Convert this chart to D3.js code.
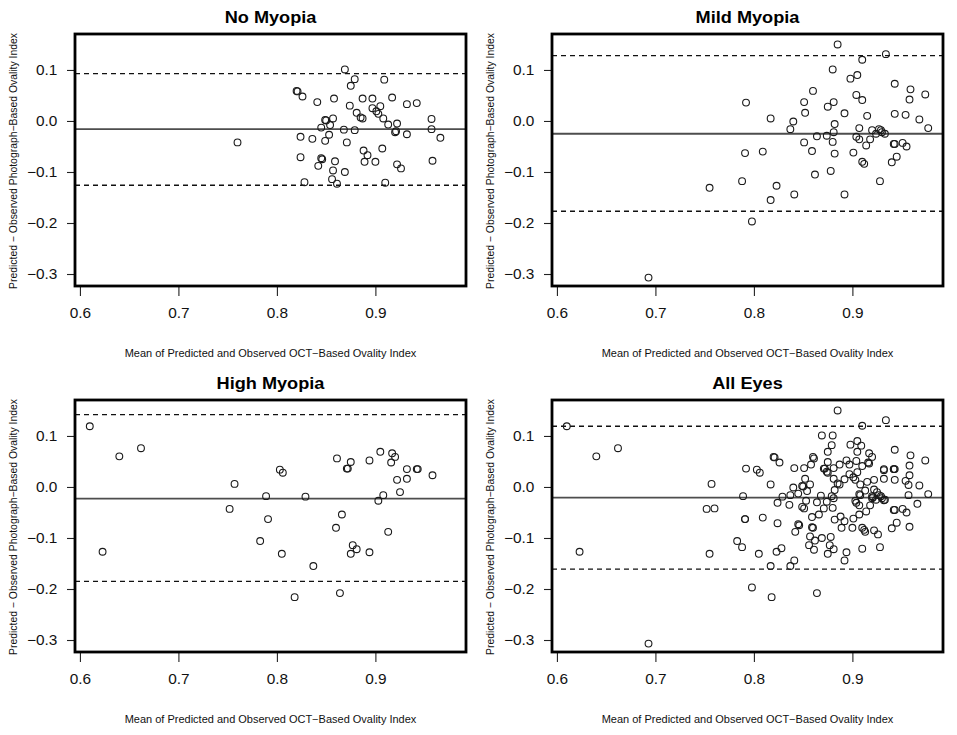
<html>
<head>
<meta charset="utf-8">
<script src='https://d3js.org/d3.v7.min.js' charset="utf-8"></script>
<style>
 body {margin:0; background:#fff;}
 text {font-family: "Liberation Sans", Arial, sans-serif;}
 circle {fill:none; stroke:#1a1a1a; stroke-width:1.1;}
</style>
</head>
<body>
<svg width=957 height=735></svg>
<script>

// points: [mean of predicted and observed, predicted - observed]
var noMyopia = [[0.760,-0.042],[0.820,0.059],[0.821,0.058],[0.826,0.048],[0.841,0.037],[0.858,0.044],[0.869,0.101],[0.879,0.082],[0.875,0.069],[0.874,0.030],[0.887,0.044],[0.897,0.044],[0.909,0.081],[0.917,0.046],[0.932,0.033],[0.942,0.035],[0.881,0.016],[0.885,0.007],[0.887,0.005],[0.897,0.025],[0.901,0.019],[0.903,0.014],[0.905,0.029],[0.908,0.005],[0.913,-0.007],[0.922,-0.005],[0.920,-0.022],[0.921,-0.020],[0.932,-0.026],[0.957,0.004],[0.957,-0.016],[0.966,-0.033],[0.958,-0.078],[0.849,0.002],[0.850,0.001],[0.857,0.005],[0.854,-0.008],[0.845,-0.013],[0.853,-0.027],[0.849,-0.039],[0.836,-0.035],[0.824,-0.031],[0.824,-0.071],[0.845,-0.073],[0.846,-0.075],[0.842,-0.088],[0.859,-0.079],[0.857,-0.097],[0.856,-0.114],[0.861,-0.123],[0.828,-0.120],[0.868,-0.017],[0.879,-0.018],[0.871,-0.042],[0.869,-0.100],[0.888,-0.058],[0.892,-0.067],[0.889,-0.080],[0.900,-0.080],[0.907,-0.054],[0.910,-0.121],[0.922,-0.085],[0.926,-0.093]];

var mildMyopia = [[0.693,-0.307],[0.755,-0.131],[0.792,0.036],[0.791,-0.063],[0.788,-0.118],[0.798,-0.197],[0.809,-0.060],[0.817,0.005],[0.817,-0.155],[0.823,-0.127],[0.837,-0.016],[0.840,-0.001],[0.841,-0.144],[0.851,0.037],[0.852,0.016],[0.851,-0.042],[0.860,0.059],[0.859,-0.059],[0.862,-0.105],[0.864,-0.030],[0.874,-0.029],[0.875,0.028],[0.881,0.037],[0.880,0.101],[0.885,0.150],[0.882,-0.006],[0.881,-0.022],[0.880,-0.041],[0.882,-0.064],[0.878,-0.098],[0.892,0.015],[0.892,-0.144],[0.898,0.083],[0.905,0.090],[0.910,0.120],[0.904,0.051],[0.910,0.041],[0.915,0.010],[0.907,-0.014],[0.904,-0.031],[0.907,-0.036],[0.901,-0.062],[0.914,-0.048],[0.910,-0.080],[0.912,-0.084],[0.918,-0.036],[0.920,-0.018],[0.924,-0.025],[0.927,-0.016],[0.929,-0.018],[0.930,-0.022],[0.933,-0.025],[0.934,0.131],[0.928,-0.118],[0.943,0.073],[0.943,0.014],[0.942,-0.045],[0.943,-0.045],[0.945,-0.070],[0.940,-0.081],[0.959,0.062],[0.958,0.042],[0.954,0.012],[0.951,-0.043],[0.955,-0.050],[0.968,0.003],[0.974,0.052],[0.977,-0.014]];

var highMyopia = [[0.610,0.119],[0.640,0.060],[0.662,0.076],[0.623,-0.127],[0.757,0.006],[0.752,-0.043],[0.789,-0.018],[0.791,-0.063],[0.783,-0.106],[0.803,0.034],[0.806,0.028],[0.805,-0.131],[0.829,-0.019],[0.837,-0.155],[0.818,-0.216],[0.861,0.056],[0.875,0.049],[0.871,0.036],[0.872,0.036],[0.866,-0.054],[0.860,-0.080],[0.877,-0.114],[0.881,-0.122],[0.875,-0.131],[0.864,-0.208],[0.894,0.052],[0.894,-0.128],[0.905,0.069],[0.903,-0.027],[0.908,-0.016],[0.913,-0.088],[0.917,0.066],[0.920,0.059],[0.916,0.048],[0.922,0.014],[0.925,-0.010],[0.932,0.035],[0.932,0.016],[0.942,0.035],[0.943,0.035],[0.958,0.023]];

var allEyes = noMyopia.concat(mildMyopia, highMyopia);

var titles = ["No Myopia", "Mild Myopia", "High Myopia", "All Eyes"];
var groups = [noMyopia, mildMyopia, highMyopia, allEyes];
// bias line and limits of agreement
var meanDiff = [-0.016, -0.025, -0.023, -0.021];
var upperLoA = [0.093, 0.128, 0.142, 0.119];
var lowerLoA = [-0.126, -0.177, -0.185, -0.161];

var xTicks = [0.6, 0.7, 0.8, 0.9];
var yTicks = [0.1, 0.0, -0.1, -0.2, -0.3];

var xLabel = "Mean of Predicted and Observed OCT\u2212Based Ovality Index";
var yLabel = "Predicted \u2212 Observed Photograph\u2212Based Ovality Index";

var w = 391, h = 252, sx = 1.1;
var fmt = d3.format(".1f");

var svg = d3.select("svg");

groups.forEach(function (pts, i) {
  var left = 75 + (i % 2) * 477,
      top = 34 + Math.floor(i / 2) * 366;

  var x = d3.scaleLinear().domain([0.595, 0.992]).range([0, w]);
  var y = d3.scaleLinear().domain([-0.3235, 0.1705]).range([h, 0]);

  var g = svg.append("g").attr("transform", "translate(" + left + "," + top + ")");

  // axes
  var gx = g.append("g")
    .attr("transform", "translate(0," + h + ")")
    .call(d3.axisBottom(x).tickValues(xTicks).tickFormat(fmt).tickSize(10).tickPadding(12));
  var gy = g.append("g")
    .call(d3.axisLeft(y).tickValues(yTicks).tickFormat(fmt).tickSize(8).tickPadding(8));
  [gx, gy].forEach(function (a) {
    a.select(".domain").remove();
    a.selectAll("line").attr("stroke", "#222").attr("stroke-width", 1.1);
    a.selectAll("text")
      .attr("font-family", "Liberation Sans, Arial, sans-serif")
      .attr("font-size", 14).attr("fill", "#111")
      .attr("transform", "scale(" + sx + ",1)");
  });

  // mean and limits lines
  g.append("line")
    .attr("x1", 0).attr("x2", w)
    .attr("y1", y(meanDiff[i])).attr("y2", y(meanDiff[i]))
    .attr("stroke", "#4d4d4d").attr("stroke-width", 1.8);
  [upperLoA[i], lowerLoA[i]].forEach(function (v) {
    g.append("line")
      .attr("x1", 0).attr("x2", w)
      .attr("y1", y(v)).attr("y2", y(v))
      .attr("stroke", "#111").attr("stroke-width", 1.3)
      .attr("stroke-dasharray", "5,4");
  });

  g.selectAll("circle")
    .data(pts)
    .enter()
    .append("circle")
    .attr("cx", function (d) { return x(d[0]); })
    .attr("cy", function (d) { return y(d[1]); })
    .attr("r", 3.4);

  // frame
  g.append("rect")
    .attr("width", w).attr("height", h)
    .attr("fill", "none").attr("stroke", "#000").attr("stroke-width", 2.8);

  g.append("text")
    .attr("transform", "translate(" + (w / 2) + ",-11.5) scale(" + sx + ",1)")
    .attr("text-anchor", "middle")
    .attr("font-size", 16.5).attr("font-weight", "bold")
    .text(titles[i]);

  g.append("text")
    .attr("transform", "translate(" + (w / 2) + "," + (h + 70.5) + ") scale(" + sx + ",1)")
    .attr("text-anchor", "middle")
    .attr("font-size", 10).attr("fill", "#111")
    .text(xLabel);

  g.append("text")
    .attr("transform", "translate(-58.5," + (h / 2 + 1) + ") rotate(-90)")
    .attr("text-anchor", "middle")
    .attr("font-size", 10.4).attr("fill", "#111")
    .text(yLabel);
});

</script>
</body>
</html>
